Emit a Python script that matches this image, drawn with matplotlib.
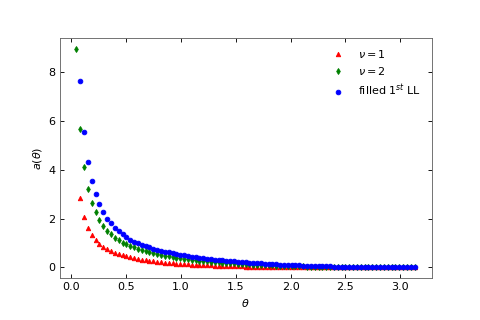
import matplotlib
matplotlib.use('Agg')
import matplotlib.pyplot as plt

# theta grid (green starts one step before the others)
theta = [0.050, 0.085, 0.120, 0.155, 0.190, 0.225, 0.260, 0.295, 0.330, 0.365,
         0.400, 0.435, 0.470, 0.505, 0.540, 0.575, 0.610, 0.645, 0.680, 0.715,
         0.750, 0.785, 0.820, 0.855, 0.890, 0.925, 0.960, 0.995, 1.030, 1.065,
         1.100, 1.135, 1.170, 1.205, 1.240, 1.275, 1.310, 1.345, 1.380, 1.415,
         1.450, 1.485, 1.520, 1.555, 1.590, 1.625, 1.660, 1.695, 1.730, 1.765,
         1.800, 1.835, 1.870, 1.905, 1.940, 1.975, 2.010, 2.045, 2.080, 2.115,
         2.150, 2.185, 2.220, 2.255, 2.290, 2.325, 2.360, 2.395, 2.430, 2.465,
         2.500, 2.535, 2.570, 2.605, 2.640, 2.675, 2.710, 2.745, 2.780, 2.815,
         2.850, 2.885, 2.920, 2.955, 2.990, 3.025, 3.060, 3.095, 3.130]

a_nu2 = [8.94, 5.67, 4.10, 3.22, 2.65, 2.25, 1.94, 1.70, 1.51, 1.35,
         1.21, 1.12, 1.02, 0.94, 0.87, 0.82, 0.77, 0.706, 0.660, 0.618,
         0.579, 0.544, 0.511, 0.480, 0.452, 0.426, 0.401, 0.378, 0.357, 0.336,
         0.317, 0.299, 0.282, 0.266, 0.251, 0.236, 0.222, 0.209, 0.197, 0.185,
         0.174, 0.163, 0.153, 0.143, 0.134, 0.125, 0.117, 0.109, 0.102, 0.095,
         0.088, 0.082, 0.076, 0.070, 0.064, 0.059, 0.054, 0.050, 0.045, 0.041,
         0.037, 0.034, 0.030, 0.027, 0.025, 0.022, 0.020, 0.017, 0.015, 0.013,
         0.012, 0.010, 0.009, 0.007, 0.006, 0.005, 0.004, 0.003, 0.003, 0.002,
         0.002, 0.001, 0.001, 0.0, 0.0, 0.0, 0.0, 0.0, 0.0]

a_nu1 = [2.83, 2.06, 1.60, 1.31, 1.12, 0.94, 0.83, 0.74, 0.67,
         0.61, 0.55, 0.50, 0.46, 0.43, 0.40, 0.36, 0.314, 0.290, 0.269,
         0.250, 0.232, 0.216, 0.200, 0.186, 0.173, 0.161, 0.150, 0.139, 0.129,
         0.120, 0.111, 0.103, 0.096, 0.088, 0.082, 0.076, 0.070, 0.064, 0.059,
         0.054, 0.050, 0.045, 0.041, 0.038, 0.034, 0.031, 0.028, 0.026, 0.023,
         0.021, 0.019, 0.017, 0.015, 0.013, 0.012, 0.010, 0.009, 0.008, 0.007,
         0.006, 0.005, 0.004, 0.004, 0.003, 0.003, 0.002, 0.002, 0.002, 0.001,
         0.001, 0.001, 0.001, 0.001, 0.0, 0.0, 0.0, 0.0, 0.0, 0.0,
         0.0, 0.0, 0.0, 0.0, 0.0, 0.0, 0.0, 0.0, 0.0]

a_ll = [7.60, 5.53, 4.31, 3.54, 2.99, 2.59, 2.26, 2.00, 1.80,
        1.63, 1.48, 1.35, 1.24, 1.14, 1.06, 0.99, 0.934, 0.876, 0.822,
        0.773, 0.729, 0.687, 0.649, 0.613, 0.580, 0.549, 0.520, 0.493, 0.467,
        0.443, 0.420, 0.398, 0.378, 0.358, 0.339, 0.322, 0.305, 0.289, 0.273,
        0.259, 0.245, 0.232, 0.219, 0.207, 0.195, 0.184, 0.173, 0.163, 0.153,
        0.144, 0.135, 0.126, 0.118, 0.110, 0.103, 0.096, 0.089, 0.082, 0.076,
        0.070, 0.064, 0.059, 0.054, 0.050, 0.045, 0.041, 0.037, 0.033, 0.030,
        0.027, 0.024, 0.021, 0.018, 0.016, 0.013, 0.011, 0.010, 0.008, 0.006,
        0.005, 0.004, 0.003, 0.002, 0.001, 0.001, 0.0, 0.0, 0.0]

fig = plt.figure(figsize=(6, 4), dpi=80)
ax = fig.add_axes([0.124, 0.13, 0.775, 0.752])

ax.plot(theta[1:], a_nu1, 'r^', ms=4.0, mew=0.8, label=r'$\nu=1$')
ax.plot(theta, a_nu2, 'gd', ms=3.8, mew=0.8, label=r'$\nu=2$')
ax.plot(theta[1:], a_ll, 'bo', ms=4.2, mew=0.8, label=r'filled 1$^{st}$ LL')

ax.set_xticks([0.0, 0.5, 1.0, 1.5, 2.0, 2.5, 3.0])
ax.set_yticks([0, 2, 4, 6, 8])
ax.tick_params(direction='in', top=True, right=True)
for s in ax.spines.values():
    s.set_color('#666666')
ax.set_xlabel(r'$\theta$')
ax.set_ylabel(r'$a(\theta)$')
ax.legend(frameon=False, numpoints=1, loc='upper right')

plt.savefig('out.png')
